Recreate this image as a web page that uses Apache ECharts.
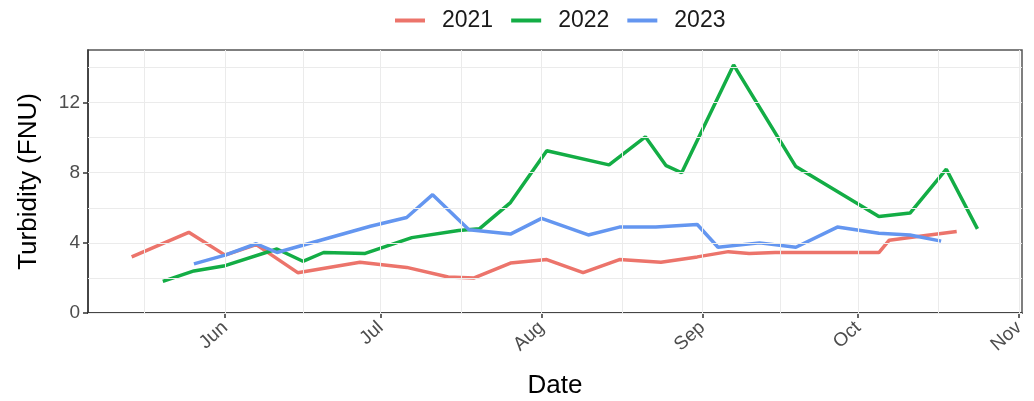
<!DOCTYPE html>
<html>
<head>
<meta charset="utf-8">
<script src="https://cdn.jsdelivr.net/npm/echarts@6/dist/echarts.min.js"></script>
<style>
  html, body { margin: 0; padding: 0; background: #fff; }
  #chart { width: 1034px; height: 401px; }
</style>
</head>
<body>
<div id="chart"></div>
<script>
// values (month-day, all plotted on one common year)
var dates2021 = ['05-14', '05-25', '06-01', '06-07', '06-15', '06-27', '07-06', '07-14', '07-19', '07-26', '08-02',
  '08-09', '08-16', '08-24', '08-31', '09-06', '09-10', '09-15', '10-05', '10-07', '10-11', '10-20'];
var vals2021 = [3.2, 4.6, 3.3, 3.9, 2.3, 2.9, 2.6, 2.05, 2.0, 2.85, 3.05,
  2.3, 3.05, 2.9, 3.2, 3.5, 3.4, 3.45, 3.45, 4.15, 4.3, 4.65];

var dates2022 = ['05-20', '05-26', '06-01', '06-11', '06-16', '06-20', '06-28', '07-07', '07-16', '07-20', '07-26',
  '08-02', '08-14', '08-21', '08-25', '08-28', '09-07', '09-19', '10-05', '10-11', '10-18', '10-24'];
var vals2022 = [1.8, 2.4, 2.7, 3.65, 2.95, 3.45, 3.4, 4.3, 4.7, 4.8, 6.3,
  9.25, 8.45, 10.05, 8.4, 8.0, 14.15, 8.35, 5.5, 5.7, 8.2, 4.8];

var dates2023 = ['05-26', '06-01', '06-07', '06-11', '06-29', '07-06', '07-11', '07-18', '07-26', '08-01', '08-10',
  '08-16', '08-23', '08-31', '09-04', '09-12', '09-19', '09-27', '10-05', '10-11', '10-17'];
var vals2023 = [2.8, 3.3, 3.95, 3.45, 4.95, 5.45, 6.75, 4.75, 4.5, 5.4, 4.45,
  4.9, 4.9, 5.05, 3.75, 4.0, 3.75, 4.9, 4.55, 4.45, 4.1];

var seriesNames = ['2021', '2022', '2023'];
var monthNames = ['Jan', 'Feb', 'Mar', 'Apr', 'May', 'Jun', 'Jul', 'Aug', 'Sep', 'Oct', 'Nov', 'Dec'];
var monthStarts = ['2023-05-01', '2023-06-01', '2023-07-01', '2023-08-01', '2023-09-01', '2023-10-01', '2023-11-01'];
var yTicks = [0, 4, 8, 12];
var yMinor = [2, 6, 10, 14];

function ts(s) {
  var p = s.split('-');
  return new Date(+p[0], +p[1] - 1, +p[2]).getTime();
}
function toPairs(dates, vals) {
  return dates.map(function (d, i) { return [ts('2023-' + d), vals[i]]; });
}

var monthTs = monthStarts.map(ts);
var xMajor = monthTs.slice(1);
var xMinor = [];
for (var i = 1; i < monthTs.length; i++) {
  xMinor.push((monthTs[i - 1] + monthTs[i]) / 2);
}

var chart = echarts.init(document.getElementById('chart'));
var gridColor = '#ebebeb';
var labelColor = '#4d4d4d';

var option = {
  animation: false,
  backgroundColor: '#fff',
  legend: {
    data: seriesNames,
    icon: 'rect',
    left: 390,
    top: 4,
    itemWidth: 30,
    itemHeight: 4,
    itemGap: 18,
    textStyle: { fontSize: 23, color: '#1a1a1a', fontFamily: 'Liberation Sans', padding: [0, 0, 0, 12] }
  },
  grid: {
    left: 88, right: 12, top: 50, bottom: 88,
    outerBoundsMode: 'none',
    show: true, borderColor: '#555', borderWidth: 1.5, backgroundColor: 'transparent'
  },
  xAxis: {
    type: 'value',
    min: new Date(2023, 4, 5, 14).getTime(),
    max: new Date(2023, 10, 1, 14).getTime(),
    name: 'Date',
    nameLocation: 'middle',
    nameGap: 60,
    nameTextStyle: { fontSize: 26, color: '#000', fontFamily: 'Liberation Sans' },
    axisLine: { show: true, lineStyle: { color: '#333', width: 1.5 } },
    axisTick: { show: true, length: 5, customValues: xMajor, lineStyle: { color: '#333', width: 1.5 } },
    axisLabel: {
      customValues: xMajor,
      rotate: 42,
      margin: 12,
      fontSize: 19,
      color: labelColor,
      fontFamily: 'Liberation Sans',
      formatter: function (v) { return monthNames[new Date(v).getMonth()]; }
    },
    splitLine: { show: false }
  },
  yAxis: {
    type: 'value',
    min: 0,
    max: 15,
    interval: 4,
    name: 'Turbidity (FNU)',
    nameLocation: 'middle',
    nameGap: 46,
    nameTextStyle: { fontSize: 26, color: '#000', fontFamily: 'Liberation Sans' },
    axisLine: { show: true, lineStyle: { color: '#333', width: 1.5 } },
    axisTick: { show: true, length: 5, customValues: yTicks, lineStyle: { color: '#333', width: 1.5 } },
    axisLabel: {
      customValues: yTicks,
      margin: 8,
      fontSize: 19,
      color: labelColor,
      fontFamily: 'Liberation Sans'
    },
    splitLine: { show: false }
  },
  series: [
    {
      // grid lines, major and minor
      type: 'line',
      data: [],
      z: 1,
      silent: true,
      markLine: {
        silent: true,
        symbol: 'none',
        label: { show: false },
        lineStyle: { color: gridColor, width: 1, type: 'solid' },
        data: xMajor.concat(xMinor).map(function (v) { return { xAxis: v }; })
          .concat(yTicks.concat(yMinor).map(function (v) { return { yAxis: v }; }))
      }
    },
    {
      name: '2021', type: 'line', symbol: 'none', z: 3,
      color: '#EC746B', lineStyle: { width: 3.5 },
      data: toPairs(dates2021, vals2021)
    },
    {
      name: '2022', type: 'line', symbol: 'none', z: 3,
      color: '#13AD45', lineStyle: { width: 3.5 },
      data: toPairs(dates2022, vals2022)
    },
    {
      name: '2023', type: 'line', symbol: 'none', z: 3,
      color: '#6496F0', lineStyle: { width: 3.5 },
      data: toPairs(dates2023, vals2023)
    }
  ]
};
chart.setOption(option);
</script>
</body>
</html>
